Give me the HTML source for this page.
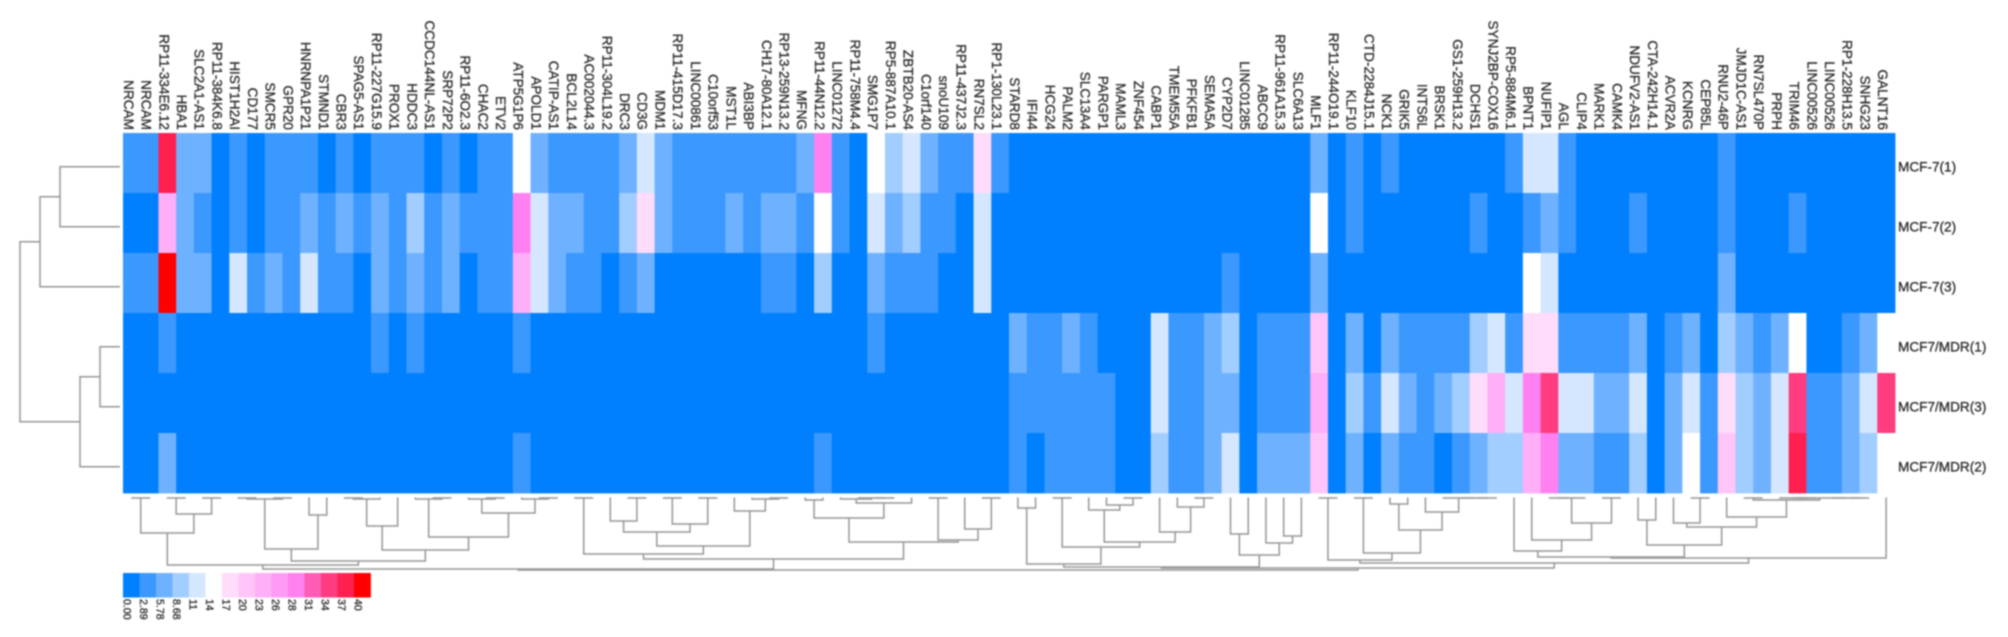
<!DOCTYPE html>
<html>
<head>
<meta charset="utf-8">
<title>Expression heatmap</title>
<style>
html,body{margin:0;padding:0;background:#fff;width:2008px;height:637px;overflow:hidden}
svg{display:block;filter:blur(0.8px)}
text{font-family:"Liberation Sans",sans-serif;fill:#2a2a2a;stroke:#2a2a2a;stroke-width:0.3px}
</style>
</head>
<body>
<svg id="chart" xmlns="http://www.w3.org/2000/svg" width="2008" height="637" viewBox="0 0 2008 637">
<rect x="0" y="0" width="2008" height="637" fill="#ffffff"/>
<g id="cells"></g>
<g id="colLabelsG"></g>
<g id="rowLabelsG"></g>
<g id="rowDendro"></g>
<g id="colDendro"></g>
<g id="legend"></g>
</svg>
<script>
const colLabels = ["NRCAM","NRCAM","RP11-334E6.12","HBA1","SLC2A1-AS1","RP11-384K6.8","HIST1H2AI","CD177","SMCR5","GPR20",
"HNRNPA1P21","STMND1","CBR3","SPAG5-AS1","RP11-227G15.9","PROX1","HDDC3","CCDC144NL-AS1","SRP72P2","RP11-6O2.3",
"CHAC2","ETV2","ATP5G1P6","APOLD1","CATIP-AS1","BCL2L14","AC002044.3","RP11-304L19.2","DRC3","CD3G",
"MDM1","RP11-415D17.3","LINC00861","C10orf53","MST1L","ABI3BP","CH17-80A12.1","RP13-259N13.2","MFNG","RP11-44N12.2",
"LINC01272","RP11-758M4.4","SMG1P7","RP5-887A10.1","ZBTB20-AS4","C1orf140","snoU109","RP11-437J2.3","RN7SL2","RP1-130L23.1",
"STARD8","IFI44","HCG24","PALM2","SLC13A4","PARGP1","MAML3","ZNF454","CABP1","TMEM55A",
"PFKFB1","SEMA5A","CYP2D7","LINC01285","ABCC9","RP11-961A15.3","SLC6A13","MLF1","RP11-244O19.1","KLF10",
"CTD-2284J15.1","NCK1","GRIK5","INTS6L","BRSK1","GS1-259H13.2","DCHS1","SYNJ2BP-COX16","RP5-884M6.1","BPNT1",
"NUFIP1","AGL","CLIP4","MARK1","CAMK4","NDUFV2-AS1","CTA-242H14.1","ACVR2A","KCNRG","CEP85L",
"RNU2-46P","JMJD1C-AS1","RN7SL470P","PRPH","TRIM46","LINC00526","LINC00526","RP1-228H13.5","SNHG23","GALNT16"];

const rowLabels = ["MCF-7(1)","MCF-7(2)","MCF-7(3)","MCF7/MDR(1)","MCF7/MDR(3)","MCF7/MDR(2)"];

const valuesMcf7_1 = [3,3,38,6,6,0,3,0,3,3, 3,0,3,0,3,3,3,0,3,0, 3,3,14,6,3,3,3,3,6,12, 6,3,3,3,3,3,3,3,6,29,
3,0,14,9,12,6,3,3,17,3, 0,0,0,0,0,0,0,0,0,0, 0,0,0,0,0,0,0,6,0,3, 0,3,0,0,0,0,0,0,3,12, 12,3,0,0,0,0,0,0,0,0, 3,0,0,0,0,0,0,0,0,0];

const valuesMcf7_2 = [0,0,23,6,3,0,3,0,3,3, 6,3,6,3,6,3,9,3,6,3, 3,3,29,12,6,6,3,3,9,17, 6,3,3,3,6,3,6,6,3,14,
3,0,12,6,9,3,3,0,12,0, 0,0,0,0,0,0,0,0,0,0, 0,0,0,0,0,0,0,14,0,3, 0,0,0,0,0,0,3,0,0,3, 6,3,0,0,0,3,0,0,0,0, 3,0,0,0,3,0,0,0,0,0];

const valuesMcf7_3 = [3,3,40,6,6,0,12,3,6,3, 12,3,3,0,6,3,6,3,6,0, 3,3,23,12,6,3,3,0,3,6, 0,0,0,0,0,0,3,3,0,9,
0,0,6,3,3,3,0,0,12,0, 0,0,0,0,0,0,0,0,0,0, 0,0,3,0,0,0,0,6,0,0, 0,0,0,0,0,0,0,0,0,14, 12,0,0,0,0,0,0,0,0,0, 6,0,0,0,0,0,0,0,0,0];

const valuesMdr_1 = [0,0,3,0,0,0,0,0,0,0, 0,0,0,0,3,0,3,0,0,0, 0,0,3,0,0,0,0,0,0,0, 0,0,0,0,0,0,0,0,0,0,
0,0,3,0,0,0,0,0,0,0, 6,3,3,6,3,0,0,0,12,3, 3,6,9,0,3,3,3,20,0,6, 0,6,3,3,3,3,9,12,3,17, 17,3,3,3,3,6,0,3,6,0, 9,6,3,6,14,0,0,3,6,14];

const valuesMdr_3 = [0,0,0,0,0,0,0,0,0,0, 0,0,0,0,0,0,0,0,0,0, 0,0,0,0,0,0,0,0,0,0, 0,0,0,0,0,0,0,0,0,0,
0,0,0,0,0,0,0,0,0,0, 3,3,3,3,3,3,0,0,12,3, 3,6,6,0,3,3,3,23,0,9, 3,12,6,3,6,9,17,23,12,29, 35,12,12,6,6,12,0,6,12,3, 17,9,6,12,35,3,3,6,12,35];

const valuesMdr_2 = [0,0,6,0,0,0,0,0,0,0, 0,0,0,0,0,0,0,0,0,0, 0,0,3,0,0,0,0,0,0,0, 0,0,0,0,0,0,0,0,0,3,
0,0,0,0,0,0,0,0,0,0, 3,0,3,3,3,3,0,0,9,3, 3,6,12,0,6,6,6,20,0,6, 0,6,3,3,0,3,6,9,9,23, 29,6,6,3,3,9,0,6,14,3, 20,9,6,12,38,3,3,6,9,14];

const legendTicks = ["0.00","2.89","5.78","8.68","11","14","17","20","23","26","28","31","34","37","40"];

const colTree = [
 [[[[0,1,1],[[2,3,1],[4,5,1],17],36],
   [[[[6,7,1],[8,9,1],2],[10,11,18],52],
    [[[[12,13,1],14,2],15,29],
     [[16,[17,18,1],2],[[19,[20,21,1],2],[22,[23,24,1],2],16],40],53],64],68],
  [[[25,26,1],
    [[[27,[28,29,1],24],[[30,31,1],[32,33,1],27],35],[34,[35,[36,37,1],2],14],49],57],
   [[[38,39,3],[[40,[41,[42,43,1],1],2],44,6],21],
    [[45,46,1],[47,[48,49,1],32],43],45],62],72],
 [[[[50,51,11],[[52,53,1],[[54,[55,[56,57,1],8],13],[58,[59,[60,61,1],10],35],45],50],67],
   [[62,63,37],[64,[65,66,39],46],58],70],
  [[[67,68,1],[[69,70,1],[[71,72,7],[73,[74,[75,[76,77,1],1],1],15],33],56],63],
   [[[78,[79,[[[80,81,1],82,1],[83,84,1],26],43],54],
     [[85,86,23],[[87,[88,89,1],26],[90,[[91,92,1],[[93,[94,95,1],1],[96,[97,98,1],1],1],3],20],30],48],60],
    99,61],66],71],
 73];

const rowTree = [[[0,1,60],2,80],[[3,4,20],5,40],100];

const palette = ["#0080ff","#3b98ff","#6eb2ff","#a2cdff","#d5e7ff","#ffffff","#ffdcfa","#ffc5f8","#ffaef8","#ff9af6","#ff80f0","#ff5cb5","#ff3c80","#ff2050","#ff0000"];

const NS = "http://www.w3.org/2000/svg";
const plotLeft = 123, plotRight = 1895, plotTop = 133, rowH = 60;
const colW = (plotRight - plotLeft) / colLabels.length;
const xLeft = i => plotLeft + colW * i;
const xCenter = i => xLeft(i) + colW / 2;
const yTop = r => plotTop + rowH * r;
const colorOf = v => palette[Math.max(0, Math.min(14, Math.round(v / 40 * 14)))];
const colDendroY = d => 497 + d;
const rowDendroX = d => 120 - d;
const legendX = i => 123 + 16.5 * i;

function make(tag, attrs, parent) {
  const el = document.createElementNS(NS, tag);
  for (const k in attrs) el.setAttribute(k, attrs[k]);
  parent.appendChild(el);
  return el;
}

const allRows = [valuesMcf7_1, valuesMcf7_2, valuesMcf7_3, valuesMdr_1, valuesMdr_3, valuesMdr_2];

const cellsG = document.getElementById("cells");
allRows.forEach((row, r) => {
  row.forEach((v, c) => {
    const el = make("rect", {x: xLeft(c), y: yTop(r), width: colW + 0.4, height: rowH + 0.4, fill: colorOf(v)}, cellsG);
    
    
  });
});

const colG = document.getElementById("colLabelsG");
colLabels.forEach((t, i) => {
  const bx = xCenter(i) - 8;
  const el = make("text", {x: bx, y: 130, "font-size": 13.6, "text-anchor": "end", transform: "rotate(90 " + bx + " 130)"}, colG);
  el.textContent = t;
  
  
});

const rowG = document.getElementById("rowLabelsG");
rowLabels.forEach((t, r) => {
  const el = make("text", {x: 1898, y: yTop(r) + 38.7, "font-size": 13.6}, rowG);
  el.textContent = t;
  
  
});

const lineStyle = {fill: "none", stroke: "#969696", "stroke-width": 1.5};

function drawColTree(node, g) {
  if (typeof node === "number") return {x: xCenter(node), y: 497.5};
  const a = drawColTree(node[0], g), b = drawColTree(node[1], g);
  const y = colDendroY(node[2]);
  const el = make("path", Object.assign({d: "M" + a.x + " " + a.y + "V" + y + "H" + b.x + "V" + b.y}, lineStyle), g);
  
  
  return {x: (a.x + b.x) / 2, y: y};
}
drawColTree(colTree, document.getElementById("colDendro"));

function drawRowTree(node, g) {
  if (typeof node === "number") return {x: 120, y: yTop(node) + 33.7};
  const a = drawRowTree(node[0], g), b = drawRowTree(node[1], g);
  const x = rowDendroX(node[2]);
  const el = make("path", Object.assign({d: "M" + a.x + " " + a.y + "H" + x + "V" + b.y + "H" + b.x}, lineStyle), g);
  
  
  return {x: x, y: (a.y + b.y) / 2};
}
drawRowTree(rowTree, document.getElementById("rowDendro"));

const legendG = document.getElementById("legend");
legendTicks.forEach((t, i) => {
  const sw = make("rect", {x: legendX(i), y: 573, width: 16.9, height: 24.5, fill: palette[i]}, legendG);
  
  
  const bx = legendX(i) + 0.5;
  const tx = make("text", {x: bx, y: 599, "font-size": 10.6, transform: "rotate(90 " + bx + " 599)"}, legendG);
  tx.textContent = t;
  
  
});
</script>
</body>
</html>
